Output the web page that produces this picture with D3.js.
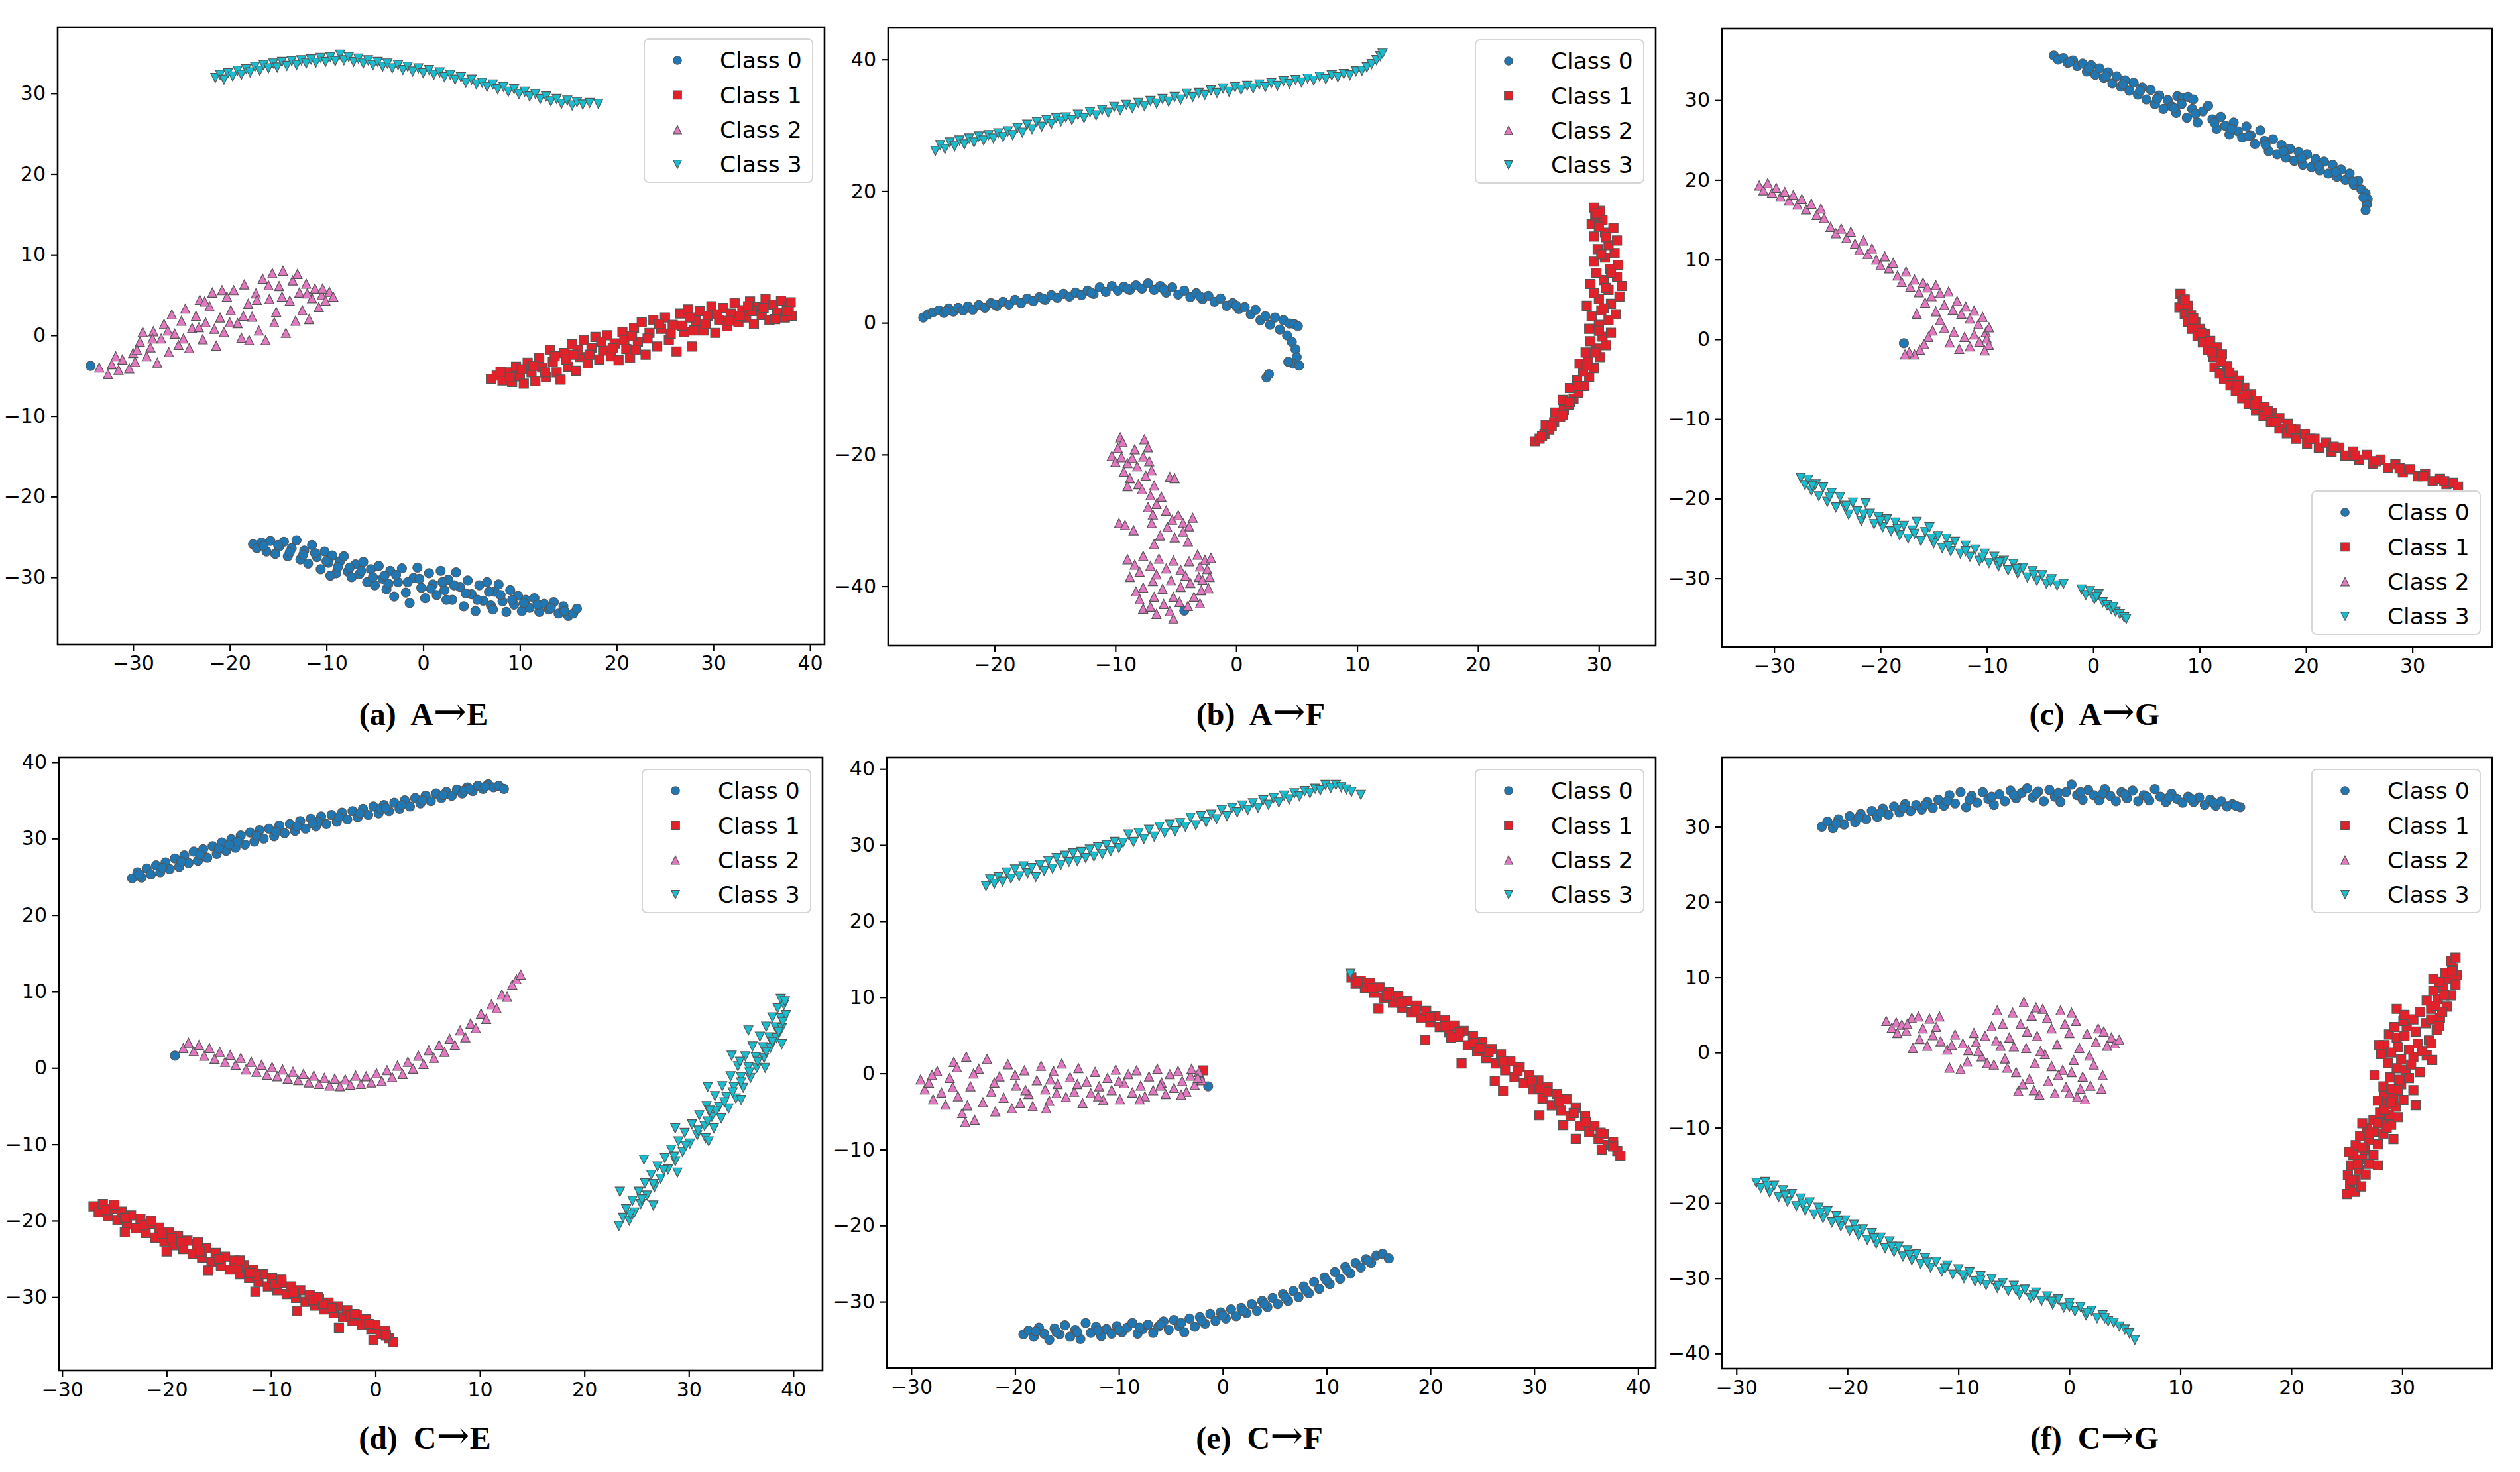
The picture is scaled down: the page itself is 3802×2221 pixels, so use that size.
<!DOCTYPE html>
<html>
<head>
<meta charset="utf-8">
<script src="https://cdn.jsdelivr.net/npm/d3@7"></script>
<style>
  html, body { margin: 0; padding: 0; background: #fff; }
  svg { display: block; }
</style>
</head>
<body>
<div id="chart"></div>
<script>
// t-SNE style scatter grid, 2 rows x 3 panels
const classNames = ["Class 0", "Class 1", "Class 2", "Class 3"];
const classColors = ["#1f77b4", "#e3212a", "#e377c2", "#17becf"];

const captionTags = ["(a)", "(b)", "(c)", "(d)", "(e)", "(f)"];
const captionSource = ["A", "A", "A", "C", "C", "C"];
const captionTarget = ["E", "F", "G", "E", "F", "G"];

// axis ranges
const aXRange = [-37.8, 41.5], aYRange = [-38.3, 38.2];
const bXRange = [-28.8, 34.7], bYRange = [-49.0, 44.8];
const cXRange = [-34.9, 37.5], cYRange = [-38.6, 39.0];
const dXRange = [-30.3, 42.8], dYRange = [-39.6, 40.6];
const eXRange = [-32.35, 41.7], eYRange = [-38.7, 41.5];
const fXRange = [-31.3, 38.1], fYRange = [-42.0, 39.2];

// tick labels
const aXTicks = [-30, -20, -10, 0, 10, 20, 30, 40], aYTicks = [-30, -20, -10, 0, 10, 20, 30];
const bXTicks = [-20, -10, 0, 10, 20, 30], bYTicks = [-40, -20, 0, 20, 40];
const cXTicks = [-30, -20, -10, 0, 10, 20, 30], cYTicks = [-30, -20, -10, 0, 10, 20, 30];
const dXTicks = [-30, -20, -10, 0, 10, 20, 30, 40], dYTicks = [-30, -20, -10, 0, 10, 20, 30, 40];
const eXTicks = [-30, -20, -10, 0, 10, 20, 30, 40], eYTicks = [-30, -20, -10, 0, 10, 20, 30, 40];
const fXTicks = [-30, -20, -10, 0, 10, 20, 30], fYTicks = [-40, -30, -20, -10, 0, 10, 20, 30];

// points, flat x,y lists per class
// (a) A->E
const a0 = [-34.4,-3.8,
  -17.6,-25.9, -17.2,-26.4, -16.7,-25.7, -16.2,-26.8, -15.8,-25.5, -15.3,-27.1, -14.9,-26.2, -14.4,-25.6, -14.0,-27.4, -13.6,-26.4,
  -13.1,-25.4, -12.7,-27.8, -12.3,-26.7, -11.9,-28.3, -11.5,-26.0, -11.0,-27.5, -10.6,-29.0, -10.2,-26.8, -9.8,-28.2, -9.4,-27.3,
  -9.0,-29.5, -8.6,-28.0, -8.2,-27.4, -7.8,-29.3, -7.4,-30.0, -7.0,-28.4, -6.6,-29.6, -6.2,-28.1, -5.8,-30.6, -5.4,-29.0,
  -5.0,-31.0, -4.6,-28.6, -4.2,-30.2, -3.8,-31.5, -3.4,-29.2, -3.0,-32.4, -2.6,-30.6, -2.2,-28.9, -1.8,-31.9, -1.4,-33.2,
  -1.0,-30.1, -0.6,-28.8, -0.2,-31.3, 0.2,-32.6, 0.6,-29.5, 1.0,-30.9, 1.4,-32.2, 1.8,-29.2, 2.2,-31.6, 2.6,-30.3,
  3.0,-32.8, 3.4,-29.4, 3.8,-31.2, 4.2,-33.6, 4.6,-30.4, 5.0,-32.1, 5.4,-34.2, 5.8,-31.0, 6.2,-32.9, 6.6,-30.6,
  7.0,-33.5, 7.4,-31.8, 7.8,-30.9, 8.2,-33.0, 8.6,-34.3, 9.0,-31.6, 9.4,-33.4, 9.8,-32.3, 10.2,-34.2, 10.6,-32.8,
  11.0,-33.8, 11.5,-32.6, 12.0,-34.3, 12.5,-33.3, 13.0,-34.0, 13.5,-33.1, 14.0,-34.5, 14.5,-33.6, 15.0,-34.8, 15.5,-34.5, 15.9,-33.9,
  -16.5,-26.1, -15.0,-26.0, -13.8,-26.9, -12.4,-27.2, -11.2,-27.0, -10.0,-28.0, -8.8,-28.7, -7.6,-28.8, -6.4,-29.2, -5.2,-30.0,
  -4.0,-29.8, -2.8,-29.7, -1.6,-30.6, -0.4,-30.2, 0.8,-31.4, 2.0,-30.6, 3.2,-31.0, 4.4,-32.0, 5.6,-32.8, 6.8,-31.8,
  8.0,-32.2, 9.2,-32.8, 10.4,-33.2, 11.8,-33.4, 13.2,-33.8, 14.6,-34.2, -9.6,-29.8, -3.6,-30.8, 2.4,-32.8, 7.2,-34.0];
const a1 = [7.0,-5.4, 7.6,-5.0, 8.2,-5.6, 8.8,-4.6, 9.2,-5.8, 9.6,-3.9, 10.0,-5.1, 10.4,-6.0, 10.8,-3.4, 11.2,-4.6,
  11.6,-5.7, 12.0,-2.8, 12.3,-4.0, 12.7,-5.2, 13.1,-1.8, 13.4,-3.3, 13.8,-4.6, 14.2,-5.5, 14.6,-2.2, 15.0,-3.9,
  15.4,-1.1, 15.8,-4.4, 16.2,-2.7, 16.6,-0.6, 17.0,-3.5, 17.4,-1.6, 17.8,-0.2, 18.2,-3.0, 18.6,-1.9, 19.0,0.0,
  19.4,-2.6, 19.8,-1.0, 20.2,-3.1, 20.6,0.4, 21.0,-1.7, 21.4,-2.8, 21.8,0.9, 22.2,-0.8, 22.6,1.6, 23.0,-2.4,
  23.4,0.3, 23.8,1.9, 24.2,-1.4, 24.6,0.8, 25.0,2.2, 25.4,-0.6, 25.8,1.3, 26.2,-2.0, 26.6,2.7, 27.0,0.4,
  27.4,3.2, 27.8,-1.4, 28.2,1.8, 28.6,3.0, 29.0,0.6, 29.4,2.4, 29.8,3.6, 30.2,0.3, 30.6,1.9, 31.0,3.4,
  31.4,1.1, 31.8,2.7, 32.2,4.0, 32.6,1.6, 33.0,3.1, 33.4,2.2, 33.8,4.2, 34.2,1.4, 34.6,3.5, 35.0,2.5,
  35.4,4.5, 35.8,1.9, 36.2,3.8, 36.6,2.8, 37.0,4.3, 37.4,2.2, 37.8,3.6, 38.0,4.1, 38.1,2.4,
  8.0,-4.5, 9.0,-5.2, 10.2,-4.2, 11.4,-3.8, 12.6,-4.6, 13.6,-2.6, 14.8,-3.0, 16.0,-1.8, 17.2,-2.4, 18.4,-0.8,
  19.6,-1.6, 20.8,-0.6, 22.0,-1.8, 23.2,-0.4, 24.4,1.4, 25.6,0.2, 26.8,1.2, 28.0,0.6, 29.2,1.4, 30.4,2.6,
  31.6,1.8, 32.8,2.4, 34.0,3.0, 35.2,3.4, 36.4,2.0, 37.6,3.0, 21.6,-0.1, 15.6,-2.4, 27.6,2.2, 33.6,3.6];
const a2 = [-33.5,-4.0, -32.6,-4.8, -32.2,-3.6, -31.5,-4.3, -31.1,-3.0, -30.4,-4.1, -30.0,-2.2, -29.8,-3.3, -29.3,-0.8, -29.0,0.4,
  -28.6,-2.6, -28.2,-1.5, -27.9,0.5, -27.5,-3.4, -27.1,-0.4, -26.8,1.4, -26.3,-2.1, -26.0,2.6, -25.7,0.2, -25.3,-1.2,
  -25.0,1.8, -24.6,3.3, -24.2,-1.6, -23.9,0.9, -23.5,2.4, -23.1,4.4, -22.8,-0.5, -22.5,1.6, -22.1,3.6, -21.8,5.3,
  -21.4,-1.3, -21.0,2.2, -20.6,0.4, -20.3,4.8, -19.9,3.1, -19.6,5.6, -19.2,1.5, -18.8,-0.3, -18.5,6.3, -18.1,3.9,
  -17.7,2.3, -17.3,5.2, -17.0,0.6, -16.6,7.0, -16.3,-0.6, -15.9,4.5, -15.6,7.7, -15.2,2.9, -14.9,6.1, -14.5,8.0,
  -14.2,0.3, -13.8,4.3, -13.5,6.8, -13.2,1.8, -12.8,5.3, -12.5,3.1, -12.1,6.4, -11.8,2.0, -11.5,4.6, -11.2,5.8,
  -10.8,3.5, -10.5,5.0, -10.1,4.3, -9.7,5.4, -9.3,4.8,
  -31.8,-2.6, -29.6,-1.8, -28.0,-0.4, -26.4,0.6, -24.8,-0.4, -23.2,1.0, -21.6,0.8, -20.0,1.6, -18.6,2.4, -17.2,4.4,
  -16.0,6.2, -14.6,4.8, -13.0,7.6, -12.0,5.2, -10.4,5.8, -20.8,5.6, -22.6,4.2, -18.0,-0.6, -15.4,1.6];
const a3 = [-21.5,31.9, -21.0,32.3, -20.6,31.7, -20.2,32.5, -19.7,32.1, -19.2,32.8, -18.8,32.3, -18.3,33.0, -17.9,32.6, -17.4,33.3,
  -16.9,32.8, -16.5,33.5, -16.0,33.1, -15.5,33.7, -15.1,33.2, -14.6,33.9, -14.1,33.4, -13.6,34.0, -13.1,33.5, -12.6,34.1,
  -12.1,33.7, -11.6,34.2, -11.1,33.8, -10.6,34.4, -10.1,33.9, -9.6,34.5, -9.1,34.0, -8.6,34.8, -8.2,34.1, -7.7,34.5,
  -7.2,33.9, -6.7,34.3, -6.2,33.7, -5.7,34.1, -5.2,33.5, -4.7,33.9, -4.2,33.3, -3.7,33.7, -3.2,33.1, -2.6,33.5,
  -2.1,32.9, -1.6,33.3, -1.1,32.7, -0.5,33.1, 0.0,32.5, 0.6,32.9, 1.1,32.3, 1.7,32.6, 2.2,32.0, 2.8,32.3,
  3.3,31.7, 3.9,32.0, 4.4,31.3, 5.0,31.7, 5.5,31.1, 6.1,31.3, 6.6,30.8, 7.2,31.1, 7.7,30.5, 8.3,30.8,
  8.8,30.2, 9.4,30.5, 9.9,29.9, 10.5,30.2, 11.0,29.6, 11.6,29.9, 12.1,29.3, 12.7,29.6, 13.2,29.0, 13.8,29.3,
  14.3,28.7, 14.9,29.1, 15.4,28.5, 15.9,28.9, 16.5,28.6, 17.2,28.8, 18.1,28.7];

// (b) A->F
const b0 = [-25.9,0.8, -25.5,1.3, -25.1,1.6, -24.6,1.9, -24.2,1.5, -23.8,2.2, -23.4,1.7, -23.0,2.3, -22.6,1.9, -22.2,2.5,
  -21.8,2.0, -21.3,2.7, -20.8,2.3, -20.3,3.0, -19.8,2.6, -19.3,3.2, -18.8,2.8, -18.3,3.5, -17.8,3.0, -17.3,3.7,
  -16.8,3.3, -16.3,3.9, -15.8,3.5, -15.3,4.2, -14.8,3.8, -14.3,4.4, -13.8,4.0, -13.3,4.6, -12.8,4.2, -12.3,4.9,
  -11.8,4.4, -11.3,5.4, -10.8,4.7, -10.3,5.6, -9.8,4.9, -9.3,5.5, -8.8,5.0, -8.3,5.7, -7.8,5.2, -7.3,6.0,
  -6.8,5.0, -6.3,5.6, -5.8,4.6, -5.3,5.4, -4.8,4.3, -4.3,4.9, -3.8,3.9, -3.3,4.5, -2.8,3.6, -2.3,4.1,
  -1.8,3.2, -1.3,3.7, -0.8,2.6, -0.3,3.0, 0.2,2.1, 0.7,2.4, 1.2,1.3, 1.6,2.0, 2.0,0.4, 2.4,1.0,
  2.8,-0.3, 3.2,0.8, 3.6,-1.0, 3.9,0.4, 4.2,-1.9, 4.4,-0.1, 4.6,-2.9, 4.8,-0.2, 4.9,-4.0, 5.1,-0.5,
  5.0,-5.2, 4.7,-6.2, 5.2,-6.5, 4.3,-5.9, 2.5,-8.3, 2.7,-7.8, -4.3,-43.7,
  -24.0,1.8, -20.0,2.8, -16.0,3.7, -12.0,4.6, -9.0,5.2, -6.0,5.1, -3.0,4.0, 0.0,2.6];
const b1 = [24.7,-18.0, 25.1,-17.6, 25.5,-16.9, 25.9,-16.2, 25.6,-15.5, 26.3,-15.1, 26.8,-14.3, 26.4,-13.6, 27.1,-13.2, 27.5,-12.4,
  27.0,-11.7, 27.9,-11.5, 28.3,-10.6, 27.6,-9.9, 28.8,-9.6, 28.2,-8.7, 29.2,-8.2, 28.7,-7.4, 29.6,-6.9, 28.4,-6.2,
  29.1,-5.6, 30.1,-5.2, 28.9,-4.5, 29.8,-3.9, 30.6,-3.4, 29.3,-2.8, 30.3,-2.1, 31.0,-1.5, 29.2,-0.9, 30.0,-0.3,
  30.8,0.4, 29.4,1.0, 31.4,1.3, 30.2,1.9, 29.0,2.6, 31.0,2.9, 30.0,3.6, 31.7,4.0, 29.6,4.5, 30.8,5.0,
  31.9,5.6, 29.3,5.9, 30.4,6.5, 31.5,7.0, 29.8,7.6, 30.9,8.2, 31.6,8.8, 29.6,9.3, 30.5,9.9, 31.3,10.6,
  29.9,11.2, 30.8,11.8, 31.5,12.5, 29.6,13.1, 30.5,13.7, 31.2,14.4, 29.4,15.0, 30.3,15.6, 29.7,16.3, 30.1,17.0, 29.6,17.5,
  25.3,-17.2, 26.1,-15.7, 27.0,-14.0, 27.6,-12.0, 28.3,-9.6, 29.0,-6.5, 29.7,-4.5, 30.0,-1.2, 30.4,2.2, 30.6,5.3,
  31.0,7.6, 30.2,10.4, 30.6,13.0, 30.0,14.6, 29.8,16.6];
const b2 = [-9.6,-17.4, -9.4,-18.1, -7.6,-17.7, -7.3,-18.9, -10.3,-20.2, -10.0,-21.1, -9.5,-20.4, -9.0,-21.3, -8.6,-20.5, -8.2,-21.8,
  -7.7,-20.3, -7.2,-21.0, -7.0,-22.4, -9.3,-22.6, -8.8,-23.6, -8.1,-24.5, -7.5,-23.2, -7.8,-25.3, -6.8,-24.7, -5.5,-23.4,
  -5.1,-23.6, -7.1,-26.2, -6.6,-27.5, -6.2,-26.4, -5.8,-28.5, -7.3,-28.0, -6.9,-29.1, -5.3,-29.9, -4.8,-29.2, -4.4,-30.4,
  -3.9,-30.9, -3.6,-29.6, -5.7,-31.0, -6.3,-32.3, -5.1,-32.6, -4.4,-31.7, -9.7,-30.4, -9.2,-30.7, -8.5,-31.5, -9.0,-35.9,
  -8.4,-36.7, -7.7,-35.4, -7.1,-36.9, -6.4,-35.8, -5.8,-37.3, -5.2,-36.1, -4.6,-37.5, -3.9,-36.2, -3.2,-35.2, -2.6,-36.0,
  -2.1,-35.7, -2.4,-37.4, -3.1,-38.6, -3.8,-39.5, -4.6,-40.1, -5.4,-39.1, -6.1,-40.4, -6.9,-39.2, -7.7,-40.2, -8.3,-40.8,
  -8.0,-42.0, -7.7,-43.4, -7.1,-43.1, -6.6,-44.2, -6.0,-42.7, -5.5,-43.8, -5.2,-44.9, -4.7,-42.4, -4.0,-43.0, -3.5,-41.6,
  -2.9,-40.6, -2.3,-40.3, -2.8,-39.0,
  -9.8,-19.0, -8.4,-19.2, -9.0,-24.8, -7.0,-30.4, -4.0,-33.2, -6.8,-33.6, -8.0,-37.8, -6.6,-38.2, -4.2,-38.4, -3.0,-37.0,
  -5.2,-41.6, -6.8,-41.6, -3.0,-42.6, -8.8,-38.6, -2.2,-38.6];
const b3 = [-24.9,26.1, -24.5,27.0, -24.1,26.4, -23.7,27.4, -23.3,26.8, -22.9,27.7, -22.5,27.1, -22.1,28.0, -21.7,27.4, -21.3,28.3,
  -20.9,27.7, -20.5,28.5, -20.1,28.0, -19.7,28.8, -19.3,28.2, -18.9,29.1, -18.5,28.5, -18.1,29.6, -17.7,28.9, -17.3,30.1,
  -16.9,29.4, -16.5,30.5, -16.1,29.8, -15.7,30.8, -15.3,30.2, -14.9,31.1, -14.5,30.6, -14.1,31.2, -13.6,30.8, -13.1,31.6,
  -12.6,31.1, -12.1,32.0, -11.6,31.5, -11.1,32.3, -10.6,31.9, -10.1,32.8, -9.6,32.3, -9.1,33.1, -8.6,32.6, -8.1,33.4,
  -7.6,32.9, -7.1,33.7, -6.6,33.3, -6.1,34.0, -5.6,33.6, -5.1,34.3, -4.6,33.9, -4.1,34.8, -3.6,34.3, -3.1,34.9,
  -2.6,34.6, -2.1,35.3, -1.6,34.9, -1.1,35.6, -0.6,35.1, -0.1,35.8, 0.4,35.4, 0.9,36.0, 1.4,35.6, 1.9,36.2,
  2.4,35.8, 2.9,36.4, 3.4,36.0, 3.9,36.7, 4.4,36.3, 4.9,36.9, 5.4,36.5, 5.9,37.1, 6.4,36.8, 6.9,37.4,
  7.4,37.0, 7.9,37.6, 8.4,37.3, 8.9,37.8, 9.4,37.6, 9.9,38.2, 10.4,38.3, 10.8,38.8, 11.2,39.3, 11.6,39.9, 11.9,40.5, 12.1,40.9];

// (c) A->G
const c0 = [-3.7,35.6, -3.3,35.1, -2.8,35.3, -2.4,34.7, -1.9,35.0, -1.5,34.3, -1.0,34.6, -0.6,33.6, -0.2,34.4, 0.2,33.2,
  0.6,34.0, 1.0,32.8, 1.4,33.5, 1.8,32.1, 2.2,33.0, 2.6,31.7, 3.0,32.5, 3.4,31.2, 3.8,32.2, 4.2,30.7,
  4.6,31.6, 5.0,30.1, 5.4,31.3, 5.8,29.5, 6.2,30.6, 6.6,28.9, 7.0,30.0, 7.4,29.2, 7.9,30.5, 8.4,30.3,
  8.9,30.4, 9.4,30.1, 7.8,28.4, 8.3,29.5, 8.8,27.8, 9.3,28.9, 9.8,27.2, 10.3,28.6, 10.8,29.3, 11.2,27.6,
  11.6,26.4, 12.0,27.9, 12.4,26.8, 12.8,25.7, 13.2,27.2, 13.6,26.1, 14.0,25.3, 14.4,26.7, 14.8,25.6, 15.2,24.5,
  15.7,26.2, 16.1,24.9, 16.5,23.6, 16.9,25.1, 17.3,23.2, 17.7,24.4, 18.1,22.8, 18.5,23.9, 18.9,22.4, 19.3,23.5,
  19.7,21.9, 20.1,23.2, 20.5,21.6, 20.9,22.6, 21.3,21.2, 21.7,22.3, 22.1,20.8, 22.5,21.9, 22.9,20.4, 23.3,21.3,
  23.7,20.0, 24.1,20.8, 24.5,19.4, 24.9,19.9, 25.2,18.8, 25.6,18.3, 25.8,17.6, 25.7,16.9, 25.6,16.2, -17.8,-0.5,
  -2.2,34.8, -0.4,34.0, 1.2,33.0, 2.8,32.0, 4.4,31.2, 6.0,30.2, 7.6,29.0, 9.6,28.3, 11.4,27.2, 13.0,26.4,
  14.6,25.5, 16.2,24.4, 17.9,23.6, 19.6,22.7, 21.2,21.8, 22.8,21.0, 24.4,19.8, 25.4,17.8];
const c1 = [8.2,5.7, 8.4,4.8, 8.1,4.0, 8.9,4.2, 8.6,3.2, 9.2,3.0, 8.9,2.2, 9.6,2.1, 9.3,1.3, 10.0,1.3,
  9.8,0.4, 10.5,0.6, 10.3,-0.4, 11.0,-0.2, 10.8,-1.3, 11.6,-1.0, 11.3,-2.2, 12.1,-1.9, 11.4,-3.5, 11.9,-4.3,
  12.6,-3.4, 12.3,-5.0, 13.1,-4.6, 12.9,-5.8, 13.7,-5.2, 13.4,-6.5, 14.2,-6.1, 14.0,-7.4, 14.8,-6.9, 14.6,-8.1,
  15.4,-7.7, 15.3,-8.9, 16.1,-8.5, 16.0,-9.6, 16.8,-9.2, 16.7,-10.4, 17.5,-9.9, 17.5,-11.2, 18.3,-10.6, 18.2,-11.8,
  19.0,-11.3, 19.1,-12.5, 19.9,-11.9, 20.1,-13.1, 20.8,-12.5, 21.2,-13.6, 21.9,-13.0, 22.4,-14.1, 23.1,-13.6, 23.7,-14.6,
  24.4,-14.1, 25.0,-15.1, 25.7,-14.5, 26.3,-15.6, 27.0,-15.1, 27.7,-16.1, 28.4,-15.7, 29.1,-16.7, 29.8,-16.3, 30.5,-17.2,
  31.2,-16.9, 31.9,-17.8, 32.6,-17.5, 33.2,-18.2, 33.8,-18.0, 34.3,-18.5,
  8.6,5.0, 9.4,2.6, 10.2,0.8, 11.2,-1.6, 12.0,-2.8, 12.8,-4.2, 13.6,-5.8, 14.4,-7.0, 15.2,-8.2, 16.4,-9.0,
  17.2,-10.4, 18.6,-11.2, 20.4,-12.5, 22.6,-13.5, 24.6,-14.6, 26.6,-15.3, 28.8,-16.2, 31.0,-17.2, 33.0,-17.8];
const c2 = [-31.4,19.3, -31.0,18.7, -30.6,19.6, -30.2,18.4, -29.8,19.0, -29.4,17.9, -29.0,18.5, -28.6,17.4, -28.2,18.1, -27.8,16.9,
  -27.4,17.6, -27.0,16.3, -26.5,17.0, -26.0,15.6, -25.6,16.4, -25.3,15.2, -24.7,14.1, -24.2,13.3, -23.7,13.9, -23.2,12.7,
  -22.8,13.5, -22.4,12.0, -22.0,11.2, -21.6,12.4, -21.2,10.7, -20.8,11.4, -20.4,10.0, -20.0,9.3, -19.6,10.4, -19.2,8.9,
  -18.8,9.6, -18.4,8.0, -18.0,7.2, -17.6,8.5, -17.2,6.6, -16.8,7.5, -16.4,5.9, -16.0,7.1, -15.6,6.5, -15.2,5.4,
  -14.8,6.8, -14.4,5.8, -14.0,4.3, -13.6,6.0, -13.2,3.7, -12.8,4.8, -12.4,3.2, -12.0,4.1, -11.6,2.6, -11.2,3.6,
  -10.8,1.9, -10.4,2.8, -10.1,0.9, -9.8,1.5, -10.0,0.1, -9.8,-0.7, -10.2,-1.4, -10.7,-0.3, -11.2,0.6, -11.6,-0.9,
  -12.1,0.3, -12.6,-1.2, -13.1,0.9, -13.5,-0.4, -14.0,1.4, -14.4,2.4, -14.8,3.5, -15.1,1.1, -15.5,0.3, -15.9,-0.6,
  -16.3,-1.3, -16.8,-1.9, -17.3,-1.6, -17.7,-1.9, -15.8,4.6, -16.6,3.2];
const c3 = [-27.5,-17.4, -27.1,-18.3, -26.8,-17.6, -26.5,-19.0, -26.1,-18.2, -25.8,-19.7, -25.4,-18.6, -25.0,-20.4, -24.6,-19.3, -24.2,-21.1,
  -23.8,-19.8, -23.4,-20.9, -23.0,-22.0, -22.6,-20.5, -22.2,-21.6, -21.8,-22.8, -21.4,-20.6, -21.0,-21.9, -20.6,-23.2, -20.2,-22.3,
  -19.8,-23.6, -19.4,-22.6, -19.0,-24.1, -18.6,-23.0, -18.2,-24.6, -17.8,-23.4, -17.4,-25.0, -17.0,-24.0, -16.6,-22.9, -16.2,-25.3,
  -15.8,-24.2, -15.4,-23.6, -15.0,-25.6, -14.6,-24.7, -14.2,-26.2, -13.8,-25.0, -13.4,-26.6, -13.0,-25.4, -12.5,-26.9, -12.0,-25.9,
  -11.6,-27.3, -11.1,-26.4, -10.7,-27.8, -10.2,-26.9, -9.8,-28.1, -9.3,-27.3, -8.9,-28.5, -8.4,-27.8, -8.0,-29.0, -7.5,-28.2,
  -7.1,-29.4, -6.6,-28.7, -6.2,-29.9, -5.7,-29.1, -5.3,-30.3, -4.8,-29.6, -4.4,-30.7, -3.9,-30.1, -3.4,-30.9, -2.8,-30.7,
  -1.1,-31.4, -0.7,-32.1, -0.3,-31.6, 0.1,-32.6, 0.5,-32.0, 0.9,-33.0, 1.3,-33.4, 1.7,-33.9, 2.1,-34.2, 2.5,-34.5, 2.9,-34.9, 3.1,-35.1,
  -26.4,-18.4, -24.8,-19.8, -23.2,-21.0, -21.6,-22.0, -20.0,-22.8, -18.4,-23.8, -16.8,-24.4, -15.2,-25.0, -13.6,-26.0, -12.0,-26.6,
  -10.4,-27.4, -8.8,-28.0, -7.2,-28.8, -5.6,-29.6, -4.0,-30.4, 0.3,-32.3, 1.9,-33.6];

// (d) C->E
const d0 = [-23.3,24.8, -22.8,25.6, -22.4,24.9, -21.9,26.1, -21.5,25.3, -21.0,26.5, -20.6,25.6, -20.1,26.9, -19.7,26.0, -19.2,27.4,
  -18.8,26.3, -18.3,27.8, -17.9,26.8, -17.4,28.3, -17.0,27.1, -16.5,28.6, -16.1,27.5, -15.6,29.0, -15.2,28.0, -14.7,29.5,
  -14.3,28.4, -13.8,29.9, -13.4,28.8, -12.9,30.4, -12.5,29.2, -12.0,30.8, -11.6,29.6, -11.1,31.1, -10.7,30.0, -10.2,31.3,
  -9.7,30.3, -9.2,31.7, -8.7,30.7, -8.2,31.9, -7.7,31.0, -7.2,32.3, -6.7,31.3, -6.2,32.6, -5.7,31.6, -5.2,32.9,
  -4.7,31.9, -4.2,33.1, -3.7,32.2, -3.2,33.4, -2.7,32.5, -2.2,33.6, -1.7,32.8, -1.2,33.9, -0.7,33.1, -0.2,34.2,
  0.3,33.3, 0.8,34.4, 1.3,33.6, 1.8,34.7, 2.3,33.9, 2.8,35.0, 3.3,34.2, 3.8,35.3, 4.3,34.6, 4.8,35.6,
  5.3,34.9, 5.8,35.9, 6.3,35.3, 6.8,36.1, 7.3,35.6, 7.8,36.4, 8.3,35.9, 8.8,36.7, 9.3,36.2, 9.8,36.9,
  10.3,36.5, 10.8,37.1, 11.3,36.7, 11.8,36.9, 12.3,36.5, -19.2,1.6,
  -22.6,25.3, -20.4,26.2, -18.6,27.0, -16.8,27.9, -15.0,28.7, -13.2,29.6, -11.4,30.4, -9.5,30.9, -7.5,31.6, -5.5,32.2,
  -3.5,32.8, -1.5,33.3, 0.5,33.9, 2.5,34.4, 4.5,35.0, 6.5,35.7, 8.5,36.3, 10.5,36.8, -14.0,29.2, -6.0,32.0, 1.0,34.0, 9.0,36.5];
const d1 = [-27.0,-18.1, -26.5,-18.9, -26.1,-17.8, -25.6,-19.4, -25.2,-18.4, -24.7,-19.9, -24.3,-18.8, -23.8,-20.5, -23.4,-19.3, -22.9,-21.0,
  -22.5,-19.7, -22.0,-21.6, -21.6,-20.4, -21.1,-22.2, -20.7,-20.9, -20.2,-22.7, -19.8,-21.5, -19.3,-23.2, -18.9,-22.0, -18.4,-23.7,
  -18.0,-22.6, -17.5,-24.3, -17.1,-23.1, -16.6,-24.8, -16.2,-23.6, -15.7,-25.4, -15.3,-24.2, -14.8,-25.9, -14.4,-24.7, -13.9,-26.4,
  -13.5,-25.2, -13.0,-27.0, -12.6,-25.8, -12.1,-27.5, -11.7,-26.4, -11.2,-28.0, -10.8,-27.0, -10.3,-28.6, -9.9,-27.5, -9.4,-29.1,
  -9.0,-28.1, -8.5,-29.6, -8.1,-28.6, -7.6,-30.1, -7.2,-29.1, -6.7,-30.6, -6.3,-29.7, -5.8,-31.1, -5.4,-30.2, -4.9,-31.6,
  -4.5,-30.7, -4.0,-32.1, -3.6,-31.2, -3.1,-32.6, -2.7,-31.7, -2.2,-33.1, -1.8,-32.3, -1.3,-33.6, -0.9,-32.9, -0.4,-34.2,
  0.0,-33.6, 0.5,-34.8, 0.9,-34.4, 1.3,-35.4, 1.7,-35.9,
  -25.8,-18.6, -24.0,-19.6, -22.2,-20.6, -20.4,-21.7, -18.6,-22.8, -16.8,-24.0, -15.0,-25.0, -13.2,-26.2, -11.4,-27.2, -9.6,-28.3,
  -7.8,-29.4, -6.0,-30.4, -4.2,-31.4, -2.4,-32.4, -0.6,-33.5, 1.0,-35.0, -19.5,-22.3, -12.0,-26.8, -5.0,-30.9,
  -25.0,-17.9, -21.5,-20.0, -17.0,-22.8, -13.0,-25.2, -9.0,-27.7, -5.5,-30.0, -2.0,-32.2,
  -24.0,-21.5, -20.0,-24.0, -16.0,-26.5, -11.5,-29.3, -7.5,-31.8, -3.5,-34.0, -0.2,-35.6];
const d2 = [-18.4,2.6, -17.9,3.3, -17.4,2.2, -16.9,3.0, -16.4,1.6, -15.9,2.6, -15.4,1.2, -14.9,2.1, -14.4,0.8, -13.9,1.7,
  -13.4,0.4, -12.9,1.3, -12.4,-0.2, -11.9,0.8, -11.4,-0.5, -10.9,0.4, -10.4,-0.9, -9.9,0.1, -9.4,-1.1, -8.9,-0.2,
  -8.4,-1.4, -7.9,-0.5, -7.4,-1.6, -6.9,-0.8, -6.4,-1.9, -5.9,-1.0, -5.4,-2.1, -4.9,-1.3, -4.4,-2.3, -3.9,-1.4,
  -3.4,-2.4, -2.9,-1.5, -2.4,-2.2, -1.9,-1.0, -1.4,-2.1, -0.9,-1.1, -0.4,-1.9, 0.1,-0.7, 0.6,-1.7, 1.1,-0.3,
  1.6,-1.2, 2.1,0.3, 2.6,-0.8, 3.1,0.8, 3.6,-0.1, 4.1,1.6, 4.6,0.5, 5.1,2.3, 5.6,1.3, 6.1,3.0,
  6.6,2.1, 7.1,3.8, 7.6,3.0, 8.1,4.9, 8.6,4.0, 9.1,5.8, 9.6,5.2, 10.1,7.1, 10.6,6.4, 11.1,8.3,
  11.6,7.8, 12.1,9.6, 12.6,9.3, 13.1,10.9, 13.5,11.6, 13.9,12.2];
const d3pts = [23.3,-20.7, 23.7,-19.6, 24.3,-20.0, 24.0,-18.5, 24.8,-18.9, 24.6,-17.4, 25.4,-17.8, 25.2,-16.2, 26.0,-16.7, 25.8,-15.1,
  26.7,-15.6, 26.4,-14.0, 27.3,-14.5, 27.0,-12.9, 28.0,-13.3, 27.7,-11.8, 28.7,-12.2, 28.3,-10.7, 29.4,-11.0, 29.0,-9.6,
  30.1,-9.9, 29.6,-8.5, 30.8,-8.8, 31.6,-9.2, 30.3,-7.4, 31.5,-7.6, 32.4,-7.9, 31.0,-6.2, 32.2,-6.4, 33.1,-6.6,
  31.7,-5.0, 32.9,-5.1, 33.8,-5.3, 32.5,-3.7, 33.6,-3.8, 34.5,-4.0, 33.2,-2.4, 34.3,-2.5, 35.2,-2.6, 34.0,-1.1,
  35.0,-1.2, 35.9,-1.3, 34.7,0.2, 35.7,0.1, 36.5,0.0, 35.4,1.5, 36.4,1.4, 37.2,1.3, 36.1,2.8, 37.1,2.7,
  37.8,2.6, 36.8,4.1, 37.7,4.0, 38.4,3.9, 37.4,5.4, 38.3,5.3, 38.9,5.2, 38.0,6.6, 38.8,6.5, 39.3,6.9,
  38.5,7.8, 39.1,8.2, 38.8,9.0, 39.2,8.7,
  24.4,-19.2, 25.5,-17.2, 26.6,-15.2, 27.6,-13.4, 28.6,-11.6, 29.7,-10.2, 30.9,-8.2, 31.8,-7.0, 32.6,-5.7, 33.4,-4.5,
  34.2,-3.2, 35.0,-1.9, 35.8,-0.6, 36.6,0.8, 37.4,2.1, 38.0,3.4, 38.6,4.7, 39.0,6.0, 32.0,-5.6, 34.9,0.8,
  26.6,-18.0, 28.9,-13.7, 31.9,-9.6, 35.0,-4.2, 37.3,0.0, 38.9,3.1,
  23.4,-16.2, 25.7,-12.0, 28.7,-7.9, 31.8,-2.5, 34.1,1.6, 35.7,4.9];

// (e) C->F
const e0 = [-19.2,-34.3, -18.7,-33.8, -18.2,-34.6, -17.7,-33.4, -17.2,-34.2, -16.7,-35.0, -16.2,-33.5, -15.7,-34.3, -15.2,-33.1, -14.7,-34.6,
  -14.2,-33.7, -13.7,-34.9, -13.2,-32.8, -12.7,-34.1, -12.2,-33.3, -11.7,-34.5, -11.2,-33.6, -10.7,-34.2, -10.2,-33.2, -9.7,-34.0,
  -9.2,-33.4, -8.7,-32.8, -8.2,-34.2, -7.7,-33.6, -7.2,-33.0, -6.7,-34.1, -6.2,-33.3, -5.7,-32.6, -5.2,-33.7, -4.7,-32.4,
  -4.2,-33.2, -3.7,-34.0, -3.2,-32.2, -2.7,-33.3, -2.2,-32.0, -1.7,-32.9, -1.2,-31.6, -0.7,-32.5, -0.2,-31.4, 0.3,-32.2,
  0.8,-31.0, 1.3,-31.9, 1.8,-30.8, 2.3,-31.5, 2.8,-30.3, 3.3,-31.2, 3.8,-29.9, 4.3,-30.7, 4.8,-29.5, 5.3,-30.3,
  5.8,-29.0, 6.3,-29.9, 6.8,-28.6, 7.3,-29.4, 7.8,-28.0, 8.3,-28.9, 8.8,-27.4, 9.3,-28.3, 9.8,-26.8, 10.3,-27.7,
  10.8,-26.1, 11.3,-27.0, 11.8,-25.4, 12.3,-26.3, 12.8,-24.9, 13.3,-25.5, 13.8,-24.4, 14.3,-24.9, 14.8,-23.9, 15.4,-23.7,
  16.0,-24.3, -2.2,-0.8, -1.4,-1.7,
  -18.0,-33.9, -16.0,-34.0, -14.0,-34.0, -12.0,-33.8, -10.0,-33.7, -8.0,-33.4, -6.0,-33.0, -4.0,-32.8, -2.0,-32.5, 0.0,-31.8,
  2.0,-31.2, 4.0,-30.3, 6.0,-29.4, 8.0,-28.5, 10.0,-27.2, 12.0,-25.9, 14.0,-24.6];
const e1 = [12.4,12.6, 12.8,11.8, 13.3,12.2, 13.7,11.2, 14.2,11.9, 14.6,10.6, 15.1,11.3, 15.5,9.9, 16.0,10.7, 16.4,9.3,
  16.9,10.1, 17.3,8.6, 17.8,9.5, 18.2,8.0, 18.7,8.9, 19.1,7.3, 19.6,8.2, 20.0,6.7, 20.5,7.5, 20.9,6.1,
  21.4,7.0, 21.8,5.4, 22.3,6.3, 22.7,4.8, 23.2,5.6, 23.6,3.7, 24.1,4.9, 24.5,2.9, 25.0,4.1, 25.4,2.0,
  25.9,3.2, 26.3,1.3, 26.8,2.5, 27.2,0.4, 27.7,1.6, 28.1,-0.5, 28.6,0.8, 29.0,-1.3, 29.5,-0.2, 29.9,-2.1,
  30.4,-0.9, 30.8,-3.3, 31.3,-1.8, 31.7,-4.2, 32.2,-2.7, 32.6,-4.9, 33.1,-3.4, 33.5,-5.6, 34.0,-4.5, 34.4,-6.9,
  34.9,-5.6, 35.3,-7.7, 35.8,-6.9, 36.2,-8.6, 36.7,-8.0, 37.1,-9.4, 37.6,-9.0, 38.0,-10.2, 38.3,-10.8, -1.9,0.4,
  13.0,12.0, 14.4,11.2, 15.8,10.2, 17.2,9.3, 18.6,8.3, 20.0,7.4, 21.4,6.2, 22.8,5.4, 24.2,4.0, 25.6,2.8,
  27.0,1.6, 28.4,0.3, 29.8,-1.0, 31.2,-2.4, 32.4,-3.8, 33.8,-5.2, 35.0,-6.4, 36.4,-7.8, 37.6,-9.6, 24.8,3.3, 30.5,-2.0, 22.0,4.7,
  15.0,8.5, 19.5,4.4, 23.0,1.3, 27.0,-2.3, 30.5,-5.5, 34.0,-8.6, 36.5,-10.0, 26.2,-1.0, 32.8,-6.8];
const e2 = [-29.1,-0.8, -28.7,-2.1, -28.3,-1.2, -27.9,-3.4, -27.5,0.3, -27.1,-2.5, -26.7,-4.1, -26.3,-0.6, -25.9,1.5, -25.5,-3.0,
  -25.1,-5.2, -24.7,2.2, -24.3,-1.7, -23.9,-6.1, -23.5,0.6, -23.1,-3.8, -22.7,1.9, -22.3,-2.4, -21.9,-5.0, -21.5,-0.4,
  -21.1,-3.2, -20.7,1.2, -20.3,-4.6, -19.9,-1.6, -19.5,-3.9, -19.1,0.4, -18.7,-2.7, -18.3,-4.3, -17.9,-0.9, -17.5,1.0,
  -17.1,-2.1, -16.7,-3.6, -16.3,0.3, -15.9,-1.4, -15.5,1.3, -15.1,-3.1, -14.7,-0.5, -14.3,-2.4, -13.9,0.7, -13.5,-3.9,
  -13.1,-1.1, -12.7,-2.6, -12.3,0.2, -11.9,-1.7, -11.5,-3.5, -11.1,-0.6, -10.7,-2.2, -10.3,0.5, -9.9,-3.4, -9.5,-1.3,
  -9.1,-0.1, -8.7,-2.5, -8.3,0.4, -7.9,-1.6, -7.5,-3.0, -7.1,-0.4, -6.7,-2.2, -6.3,0.6, -5.9,-1.2, -5.5,-2.7,
  -5.1,-0.1, -4.7,-1.9, -4.3,0.3, -3.9,-1.0, -3.5,-2.4, -3.1,-0.3, -2.7,-1.5, -2.3,0.2, -2.0,-0.9,
  -28.0,-0.2, -26.0,-1.8, -24.6,-4.2, -24.0,0.0, -22.0,-1.2, -20.0,-0.2, -19.0,-2.2, -17.0,-4.6, -16.0,-2.6, -14.0,-1.4,
  -12.0,-3.0, -10.0,-1.0, -8.0,-3.4, -6.0,-1.6, -4.0,-2.8, -3.0,0.6, -2.4,-0.6, -24.8,-6.4, -25.6,0.8, -16.6,-0.8];
const e3 = [-22.8,24.6, -22.4,25.5, -22.0,24.9, -21.6,25.8, -21.2,25.2, -20.8,26.4, -20.4,25.6, -20.0,26.8, -19.6,25.9, -19.2,27.2,
  -18.8,26.3, -18.4,27.0, -18.0,25.8, -17.6,27.4, -17.2,26.6, -16.8,27.9, -16.4,26.9, -16.0,28.3, -15.6,27.4, -15.2,28.6,
  -14.8,27.8, -14.4,28.9, -14.0,27.9, -13.6,29.1, -13.2,28.3, -12.8,29.4, -12.4,28.5, -12.0,29.7, -11.6,28.8, -11.2,30.0,
  -10.8,29.2, -10.4,30.4, -10.0,29.6, -9.6,30.3, -9.1,31.4, -8.6,30.4, -8.1,31.6, -7.6,30.8, -7.1,32.0, -6.6,31.1,
  -6.1,32.4, -5.6,31.6, -5.1,32.7, -4.6,31.8, -4.1,32.9, -3.6,32.4, -3.1,33.6, -2.6,32.6, -2.1,33.8, -1.6,33.0,
  -1.1,34.0, -0.6,33.4, -0.1,34.6, 0.4,33.8, 0.9,34.9, 1.4,34.3, 1.9,35.2, 2.4,34.6, 2.9,35.5, 3.4,34.9,
  3.9,35.9, 4.4,35.3, 4.9,36.2, 5.4,35.6, 5.9,36.5, 6.4,36.0, 6.9,36.8, 7.4,36.4, 7.9,37.1, 8.4,36.8,
  8.9,37.4, 9.4,37.2, 9.9,37.9, 10.4,37.5, 10.9,37.9, 11.4,37.6, 11.9,37.3, 12.4,37.0, 13.3,36.6, 12.3,13.1];

// (f) C->G
const f0 = [-22.3,30.0, -21.8,30.7, -21.3,29.8, -20.8,31.0, -20.3,30.3, -19.8,31.4, -19.3,30.6, -18.8,31.7, -18.3,31.0, -17.8,32.1,
  -17.3,31.3, -16.8,32.4, -16.3,31.6, -15.8,32.7, -15.3,31.9, -14.8,33.0, -14.3,32.1, -13.8,32.9, -13.3,32.3, -12.8,33.3,
  -12.3,32.5, -11.8,33.6, -11.3,32.8, -10.8,34.2, -10.3,33.1, -9.8,34.6, -9.3,32.6, -8.8,34.1, -8.3,33.2, -7.8,34.6,
  -7.3,33.7, -6.8,32.9, -6.3,34.3, -5.8,33.4, -5.3,34.8, -4.8,33.8, -4.3,34.5, -3.8,35.1, -3.3,33.9, -2.8,34.7,
  -2.3,33.4, -1.8,34.9, -1.3,34.0, -0.8,33.3, -0.3,34.6, 0.2,35.6, 0.7,34.2, 1.2,33.6, 1.7,34.9, 2.2,34.2,
  2.7,33.5, 3.2,35.0, 3.7,34.1, 4.2,33.4, 4.7,34.6, 5.2,33.8, 5.7,34.8, 6.2,33.4, 6.7,34.2, 7.2,33.5,
  7.7,35.0, 8.2,34.0, 8.7,33.3, 9.2,34.4, 9.7,33.7, 10.2,33.2, 10.7,34.0, 11.2,33.3, 11.7,33.9, 12.2,32.9,
  12.7,33.6, 13.2,32.8, 13.7,33.4, 14.2,32.7, 14.7,33.0, 15.4,32.6,
  -21.0,30.4, -19.0,31.2, -17.0,31.9, -15.0,32.5, -13.0,32.9, -11.0,33.4, -9.0,33.6, -7.0,34.0, -5.0,34.2, -3.0,34.4,
  -1.0,34.5, 1.0,34.6, 3.0,34.4, 5.0,34.3, 7.0,34.0, 9.0,33.9, 11.0,33.7, 13.0,33.2, 15.0,32.8];
const f1 = [25.0,-18.8, 25.3,-17.6, 25.7,-18.5, 25.1,-16.3, 25.8,-16.9, 26.3,-17.8, 25.4,-15.0, 26.1,-15.6, 26.7,-16.2, 25.6,-13.6,
  26.4,-14.2, 27.0,-14.8, 25.8,-12.3, 26.6,-12.9, 27.4,-13.6, 26.2,-11.1, 27.0,-11.6, 27.8,-12.2, 26.8,-10.0, 27.5,-10.5,
  28.3,-10.8, 27.4,-9.0, 28.2,-9.3, 29.0,-9.6, 28.0,-8.0, 28.8,-8.3, 29.6,-8.6, 28.6,-6.9, 29.4,-7.2, 28.4,-5.6,
  29.2,-5.9, 30.1,-6.3, 28.3,-4.5, 29.0,-4.8, 29.9,-4.2, 28.9,-3.3, 29.7,-3.6, 29.5,-2.1, 30.3,-2.3, 31.6,-2.6,
  28.1,-0.2, 29.9,-0.9, 31.0,-0.6, 32.2,-0.4, 28.4,1.0, 29.6,0.7, 30.6,0.4, 31.8,0.2, 32.7,-1.0, 28.8,2.4,
  29.5,2.0, 30.4,3.5, 31.2,2.8, 32.4,1.6, 29.3,3.4, 30.1,4.2, 31.0,4.4, 32.1,3.9, 33.1,3.0, 31.6,5.4,
  32.6,5.8, 33.4,4.6, 32.2,6.9, 33.2,7.1, 34.0,6.1, 32.8,8.2, 33.7,8.5, 34.4,7.6, 33.3,9.4, 34.2,9.8,
  34.8,9.0, 33.9,10.6, 34.6,11.2, 34.9,10.3, 34.4,12.2, 34.8,12.6,
  25.5,-17.0, 26.0,-14.8, 26.4,-12.6, 27.0,-10.8, 27.8,-9.4, 28.4,-7.6, 29.0,-6.6, 29.6,-5.0, 30.6,-3.4, 30.8,-1.6,
  28.7,-1.4, 29.0,0.0, 30.2,2.2, 31.4,1.2, 32.6,4.4, 33.6,5.4, 33.0,6.2, 33.8,7.6, 34.5,10.8, 27.8,-6.4,
  27.8,-15.0, 28.6,-10.0, 29.2,-11.5, 31.0,-5.0, 31.2,-7.0, 27.5,-3.0, 27.9,1.0, 32.6,1.2, 29.5,5.8, 30.2,5.0,
  33.3,3.5, 32.8,9.8, 25.2,-13.2, 26.4,-9.4];
const f2 = [-16.5,4.2, -16.0,3.3, -15.6,4.0, -15.1,3.7, -14.7,2.9, -14.2,4.6, -13.6,4.8, -13.2,3.2, -12.6,4.5, -11.7,4.8,
  -14.1,0.6, -13.5,1.8, -12.8,0.9, -12.3,2.3, -11.6,1.5, -11.0,0.4, -10.8,-2.0, -10.3,2.4, -9.8,-2.2, -9.6,1.2,
  -9.1,0.3, -8.6,2.6, -8.4,1.4, -7.9,-0.5, -7.4,-1.4, -7.0,3.5, -6.5,5.6, -6.8,-1.6, -6.2,0.9, -5.8,-0.8,
  -5.4,2.0, -5.1,5.3, -4.8,-2.6, -4.6,-5.1, -4.4,3.8, -4.1,6.7, -3.9,0.6, -3.6,-3.5, -3.4,4.9, -3.1,-1.4,
  -2.9,2.2, -2.7,-5.6, -2.4,5.8, -2.2,-0.2, -1.9,-3.8, -1.6,3.2, -1.3,-5.4, -1.1,1.1, -0.8,5.6, -0.6,-2.3,
  -0.3,-4.6, 0.0,2.6, 0.2,5.3, 0.4,-1.0, 0.7,-5.9, 0.9,0.6, 1.2,-3.2, 1.4,-6.2, 1.6,2.5, 1.9,-4.4,
  2.2,-1.6, 2.6,3.2, 2.9,-4.8, 3.1,2.8, 3.4,0.9, 3.8,2.0, 4.1,1.2, 4.5,1.7,
  -15.5,2.6, -14.6,3.8, -12.0,3.4, -10.6,1.0, -9.2,-1.2, -8.2,0.2, -7.6,2.2, -6.6,1.6, -6.0,3.8, -5.6,-2.0,
  -5.0,0.8, -4.2,-4.2, -3.8,2.8, -3.2,-5.0, -2.6,0.2, -2.0,4.6, -1.6,-1.8, -1.0,-3.0, -0.4,3.8, 0.2,-2.6,
  0.6,4.2, 1.0,-4.8, 1.8,-0.4, 2.4,1.4, 3.0,-3.0, 0.0,-5.4, -3.0,6.0];
const f3 = [-28.2,-17.3, -27.8,-18.0, -27.4,-17.2, -27.0,-18.6, -26.6,-17.7, -26.2,-19.2, -25.8,-18.3, -25.4,-19.8, -25.0,-18.8, -24.6,-20.4,
  -24.2,-19.4, -23.8,-21.0, -23.4,-19.9, -23.0,-21.5, -22.6,-20.6, -22.2,-22.0, -21.8,-21.1, -21.4,-22.6, -21.0,-21.7, -20.6,-23.1,
  -20.2,-22.3, -19.8,-23.7, -19.4,-22.9, -19.0,-24.3, -18.6,-23.5, -18.2,-24.9, -17.8,-24.0, -17.4,-25.4, -17.0,-24.6, -16.6,-26.0,
  -16.2,-25.1, -15.8,-26.5, -15.4,-25.8, -15.0,-27.1, -14.6,-26.3, -14.2,-27.6, -13.8,-26.8, -13.4,-28.1, -13.0,-27.3, -12.5,-28.6,
  -12.0,-27.8, -11.5,-29.1, -11.0,-28.3, -10.5,-29.5, -10.0,-28.8, -9.5,-30.0, -9.0,-29.2, -8.5,-30.4, -8.0,-29.7, -7.5,-30.9,
  -7.0,-30.1, -6.5,-31.3, -6.0,-30.6, -5.5,-31.7, -5.0,-31.0, -4.5,-32.2, -4.0,-31.5, -3.5,-32.6, -3.0,-31.9, -2.5,-33.0,
  -2.0,-32.4, -1.5,-33.5, -1.0,-32.8, -0.5,-33.9, 0.0,-33.3, 0.5,-34.4, 1.0,-33.8, 1.5,-34.9, 2.0,-34.3, 2.5,-35.3,
  3.0,-34.9, 3.5,-35.7, 4.0,-35.9, 4.5,-36.4, 5.0,-36.8, 5.4,-37.3, 5.9,-38.2,
  -27.2,-17.8, -25.6,-19.0, -24.0,-20.2, -22.4,-21.3, -20.8,-22.4, -19.2,-23.6, -17.6,-24.7, -16.0,-25.8, -14.4,-26.9, -12.8,-27.9,
  -11.2,-28.7, -9.6,-29.6, -8.0,-30.3, -6.4,-31.0, -4.8,-31.6, -3.2,-32.3, -1.6,-33.1, 0.0,-33.8, 1.6,-34.6, 3.2,-35.3];

// ---- drawing ----
const W = 3802, H = 2221;
const svg = d3.select("#chart").append("svg")
  .attr("width", W).attr("height", H)
  .attr("viewBox", `0 0 ${W} ${H}`);
svg.append("rect").attr("width", W).attr("height", H).attr("fill", "#fff");

// matplotlib-like marker shapes (size = side^2)
const mplCircle = { draw(ctx, s) { const r = Math.sqrt(s) / 2; ctx.moveTo(r, 0); ctx.arc(0, 0, r, 0, 2 * Math.PI); } };
const mplSquare = { draw(ctx, s) { const h = Math.sqrt(s) / 2; ctx.rect(-h, -h, 2 * h, 2 * h); } };
const mplTriUp = { draw(ctx, s) { const h = Math.sqrt(s) / 2; ctx.moveTo(0, -h); ctx.lineTo(h, h); ctx.lineTo(-h, h); ctx.closePath(); } };
const mplTriDown = { draw(ctx, s) { const h = Math.sqrt(s) / 2; ctx.moveTo(0, h); ctx.lineTo(h, -h); ctx.lineTo(-h, -h); ctx.closePath(); } };
const markerTypes = [mplCircle, mplSquare, mplTriUp, mplTriDown];
const markerSize = 14 * 14;
const legendMarkerSize = 12.5 * 12.5;
const edgeColor = "#555555";

const pairs = arr => d3.range(0, arr.length, 2).map(i => [arr[i], arr[i + 1]]);

const panels = [
  { rect: [87, 41, 1244, 972], xr: aXRange, yr: aYRange, xt: aXTicks, yt: aYTicks, series: [a0, a1, a2, a3], legend: "upper", capX: 639, capY: 1094 },
  { rect: [1340, 42, 2498, 974], xr: bXRange, yr: bYRange, xt: bXTicks, yt: bYTicks, series: [b0, b1, b2, b3], legend: "upper", capX: 1902, capY: 1094 },
  { rect: [2598, 43, 3760, 976], xr: cXRange, yr: cYRange, xt: cXTicks, yt: cYTicks, series: [c0, c1, c2, c3], legend: "lower", capX: 3160, capY: 1094 },
  { rect: [89, 1143, 1241, 2068], xr: dXRange, yr: dYRange, xt: dXTicks, yt: dYTicks, series: [d0, d1, d2, d3pts], legend: "upper", capX: 641, capY: 2186 },
  { rect: [1338, 1143, 2498, 2064], xr: eXRange, yr: eYRange, xt: eXTicks, yt: eYTicks, series: [e0, e1, e2, e3], legend: "upper", capX: 1900, capY: 2186 },
  { rect: [2598, 1143, 3760, 2065], xr: fXRange, yr: fYRange, xt: fXTicks, yt: fYTicks, series: [f0, f1, f2, f3], legend: "upper", capX: 3160, capY: 2186 }
];

panels.forEach((p, i) => {
  const [L, T, R, B] = p.rect;
  const g = svg.append("g").attr("class", "panel");

  const x = d3.scaleLinear().domain(p.xr).range([L, R]);
  const y = d3.scaleLinear().domain(p.yr).range([B, T]);

  // scatter, class 0 first
  p.series.forEach((pts, k) => {
    g.append("g")
      .selectAll("path")
      .data(pairs(pts))
      .join("path")
      .attr("transform", d => `translate(${x(d[0])},${y(d[1])})`)
      .attr("d", d3.symbol().type(markerTypes[k]).size(markerSize))
      .attr("fill", classColors[k])
      .attr("stroke", edgeColor)
      .attr("stroke-width", 1.2);
  });

  // axes
  const xAxis = d3.axisBottom(x).tickValues(p.xt).tickSize(10).tickPadding(8).tickSizeOuter(0);
  const yAxis = d3.axisLeft(y).tickValues(p.yt).tickSize(10).tickPadding(8).tickSizeOuter(0);

  const gx = g.append("g").attr("transform", `translate(0,${B})`).call(xAxis);
  const gy = g.append("g").attr("transform", `translate(${L},0)`).call(yAxis);
  [gx, gy].forEach(ax => {
    ax.select(".domain").remove();
    ax.selectAll(".tick line").attr("stroke", "#000").attr("stroke-width", 2.2);
    ax.selectAll(".tick text")
      .attr("fill", "#000")
      .style("font-family", "'DejaVu Sans', sans-serif")
      .style("font-size", "30px");
  });

  // frame
  g.append("rect")
    .attr("x", L).attr("y", T)
    .attr("width", R - L).attr("height", B - T)
    .attr("fill", "none")
    .attr("stroke", "#000")
    .attr("stroke-width", 2.6);

  // legend
  const lw = 254, lh = 216;
  const lx = R - 18 - lw;
  const ly = p.legend === "upper" ? T + 18 : B - 19 - lh;
  const lg = g.append("g").attr("transform", `translate(${lx},${ly})`);
  lg.append("rect")
    .attr("width", lw).attr("height", lh)
    .attr("rx", 7).attr("ry", 7)
    .attr("fill", "#fff")
    .attr("fill-opacity", 0.8)
    .attr("stroke", "#d6d6d6")
    .attr("stroke-width", 2);
  classNames.forEach((name, k) => {
    const ry = 32 + k * 52.3;
    lg.append("path")
      .attr("transform", `translate(50,${ry})`)
      .attr("d", d3.symbol().type(markerTypes[k]).size(legendMarkerSize))
      .attr("fill", classColors[k])
      .attr("stroke", edgeColor)
      .attr("stroke-width", 1.2);
    lg.append("text")
      .attr("x", 114).attr("y", ry)
      .attr("dy", "0.36em")
      .style("font-family", "'DejaVu Sans', sans-serif")
      .style("font-size", "34.5px")
      .attr("fill", "#000")
      .text(name);
  });

  // caption: "(a)  A→E"
  const cap = g.append("text")
    .attr("x", p.capX).attr("y", p.capY)
    .attr("text-anchor", "middle")
    .style("font-family", "'Liberation Serif', 'Times New Roman', serif")
    .style("font-weight", "bold")
    .style("font-size", "48px")
    .style("white-space", "pre")
    .attr("fill", "#000");
  cap.append("tspan").text(captionTags[i] + "  " + captionSource[i]);
  cap.append("tspan")
    .style("font-family", "'DejaVu Serif', serif")
    .style("font-weight", "normal")
    .style("font-size", "60px")
    .text("\u2192");
  cap.append("tspan").text(captionTarget[i]);
});
</script>
</body>
</html>
